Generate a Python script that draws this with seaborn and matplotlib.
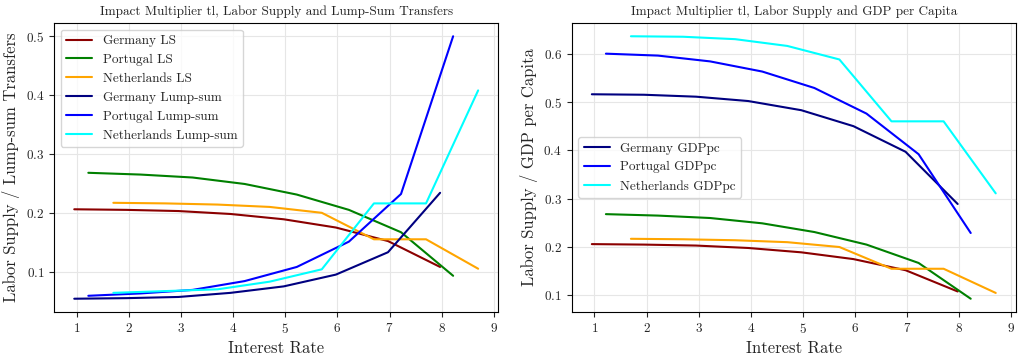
import pandas as pd
import numpy as np
import matplotlib.pyplot as plt
import seaborn as sns

# interest rates at which each country was evaluated
x_germany = [0.95, 1.95, 2.95, 3.95, 4.97, 5.97, 6.97, 7.97]
x_portugal = [1.22, 2.22, 3.22, 4.22, 5.22, 6.22, 7.22, 8.22]
x_netherlands = [1.7, 2.7, 3.7, 4.7, 5.7, 6.7, 7.7, 8.7]

# labor supply multipliers
ls_germany = [0.206, 0.205, 0.203, 0.198, 0.189, 0.175, 0.152, 0.108]
ls_portugal = [0.268, 0.265, 0.260, 0.249, 0.231, 0.205, 0.167, 0.093]
ls_netherlands = [0.217, 0.216, 0.214, 0.210, 0.200, 0.155, 0.155, 0.105]

# lump-sum transfer multipliers
lump_germany = [0.054, 0.055, 0.057, 0.064, 0.075, 0.095, 0.133, 0.234]
lump_portugal = [0.059, 0.063, 0.069, 0.084, 0.108, 0.151, 0.232, 0.500]
lump_netherlands = [0.064, 0.067, 0.070, 0.083, 0.104, 0.216, 0.216, 0.408]

# GDP per capita multipliers
gdp_germany = [0.516, 0.515, 0.511, 0.502, 0.483, 0.450, 0.397, 0.289]
gdp_portugal = [0.600, 0.596, 0.584, 0.563, 0.529, 0.476, 0.392, 0.229]
gdp_netherlands = [0.636, 0.635, 0.630, 0.616, 0.588, 0.460, 0.460, 0.311]

sns.set_style("ticks", {"axes.grid": True, "grid.color": "#e6e6e6",
                        "axes.edgecolor": "black"})
plt.rcParams['font.family'] = 'serif'
plt.rcParams['font.serif'] = ['cmr10', 'DejaVu Serif']
plt.rcParams['mathtext.fontset'] = 'cm'
plt.rcParams['axes.formatter.use_mathtext'] = True
plt.rcParams['axes.unicode_minus'] = False

fig, (ax1, ax2) = plt.subplots(1, 2, figsize=(10.2, 3.56), dpi=100)
fig.subplots_adjust(left=0.053, right=0.996, bottom=0.124, top=0.935, wspace=0.165)

ls_series = [
    ("Germany LS", x_germany, ls_germany, "darkred"),
    ("Portugal LS", x_portugal, ls_portugal, "green"),
    ("Netherlands LS", x_netherlands, ls_netherlands, "orange"),
]
lump_series = [
    ("Germany Lump-sum", x_germany, lump_germany, "navy"),
    ("Portugal Lump-sum", x_portugal, lump_portugal, "blue"),
    ("Netherlands Lump-sum", x_netherlands, lump_netherlands, "cyan"),
]
gdp_series = [
    ("Germany GDPpc", x_germany, gdp_germany, "navy"),
    ("Portugal GDPpc", x_portugal, gdp_portugal, "blue"),
    ("Netherlands GDPpc", x_netherlands, gdp_netherlands, "cyan"),
]

# left panel: labor supply and lump-sum
for name, xs, ys, col in ls_series + lump_series:
    sns.lineplot(x=xs, y=ys, ax=ax1, color=col, label=name, linewidth=1.5)

# right panel: labor supply (no legend) and GDP per capita
for name, xs, ys, col in ls_series:
    sns.lineplot(x=xs, y=ys, ax=ax2, color=col, linewidth=1.5)
for name, xs, ys, col in gdp_series:
    sns.lineplot(x=xs, y=ys, ax=ax2, color=col, label=name, linewidth=1.5)

ax1.set_title("Impact Multiplier tl, Labor Supply and Lump-Sum Transfers", fontsize=9.5)
ax1.set_xlabel("Interest Rate", fontsize=12)
ax1.set_ylabel("Labor Supply / Lump-sum Transfers", fontsize=12)
ax1.legend(loc="upper left", fontsize=9.5)

ax2.set_title("Impact Multiplier tl, Labor Supply and GDP per Capita", fontsize=9.5)
ax2.set_xlabel("Interest Rate", fontsize=12)
ax2.set_ylabel("Labor Supply / GDP per Capita", fontsize=12)
ax2.legend(loc="center left", fontsize=9.5)

for ax in (ax1, ax2):
    ax.set_xticks(range(1, 10))
    ax.tick_params(labelsize=9.5)
    for s in ax.spines.values():
        s.set_visible(True)
        s.set_color("black")

plt.savefig("out.png", dpi=100)
